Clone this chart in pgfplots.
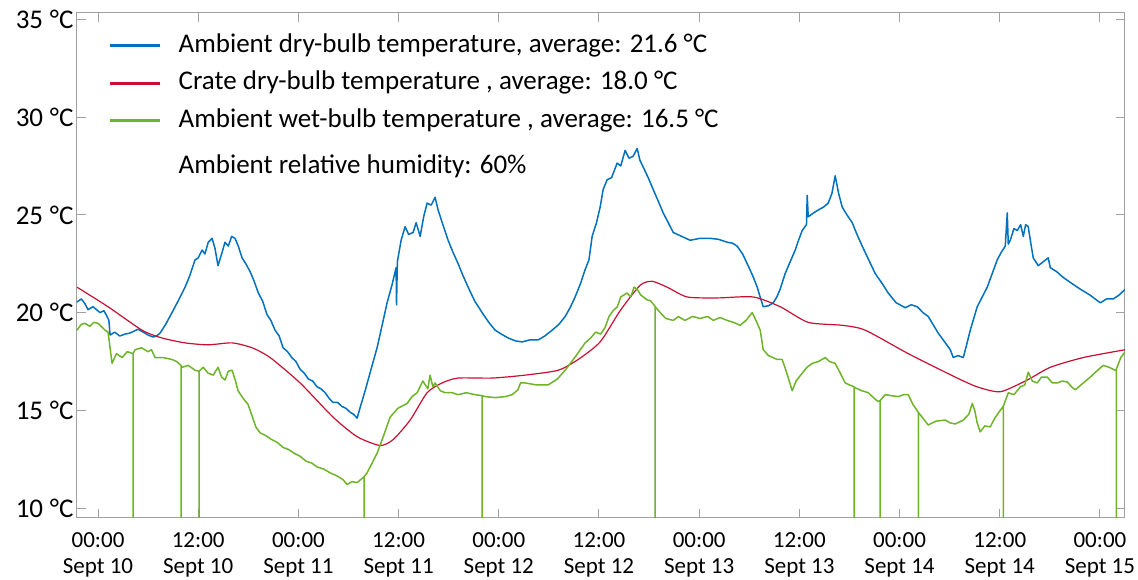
\documentclass[border=0pt]{standalone}
\usepackage{fontspec}
\setmainfont{Carlito}
\usepackage{pgfplots}
\pgfplotsset{compat=1.18}
\usepackage{pgfplotstable}
\definecolor{cblue}{RGB}{0,114,189}
\definecolor{cred}{RGB}{200,16,50}
\definecolor{cgreen}{RGB}{110,180,40}
\definecolor{axgray}{RGB}{160,160,160}

\pgfplotstableread{
h T
-2.52 20.54
-2.0 20.7
-1.56 20.45
-1.2 20.15
-0.6 20.3
0.24 20.0
0.7 20.1
1.08 19.8
1.3 19.6
1.44 18.85
2.0 19.0
2.6 18.8
3.23 18.9
3.8 18.95
4.3 19.05
4.79 19.15
5.4 19.0
6.0 18.85
6.59 18.75
7.0 18.8
7.43 18.95
8.1 19.4
8.86 20.0
9.6 20.6
10.42 21.3
11.0 21.9
11.62 22.7
12.0 22.8
12.46 23.2
12.8 23.0
13.2 23.6
13.66 23.8
14.0 23.3
14.37 22.4
14.8 23.0
15.21 23.6
15.6 23.4
16.0 23.9
16.41 23.8
16.8 23.4
17.25 22.8
17.7 22.5
18.21 22.1
18.7 21.6
19.2 21.0
19.7 20.6
20.24 19.9
20.7 19.6
21.2 19.1
21.7 18.8
22.16 18.2
22.7 18.0
23.2 17.7
23.7 17.5
24.20 17.1
24.7 16.9
25.2 16.6
25.7 16.5
26.24 16.2
26.7 16.1
27.2 15.9
27.7 15.6
28.15 15.4
28.7 15.4
29.2 15.2
29.7 15.1
30.19 14.9
30.6 14.8
31.03 14.6
31.5 15.3
31.99 16.0
32.7 17.1
33.42 18.2
34.0 19.3
34.62 20.5
35.2 21.4
35.7 22.3
35.75 20.4
35.85 22.6
36.3 23.7
36.78 24.4
37.2 24.0
37.74 24.1
38.1 24.6
38.58 23.9
39.0 24.9
39.41 25.6
39.9 25.5
40.37 25.9
40.73 25.25
41.3 24.5
41.93 23.7
42.5 23.1
43.13 22.5
43.7 21.9
44.33 21.3
45.1 20.6
46.00 20.0
46.8 19.5
47.56 19.1
48.3 18.9
49.12 18.7
50.0 18.55
50.80 18.5
51.7 18.6
52.71 18.6
53.5 18.8
54.39 19.1
55.2 19.4
55.95 19.8
56.6 20.3
57.14 20.8
57.8 21.5
58.34 22.2
58.8 22.7
59.18 23.9
59.7 24.6
60.14 25.4
60.5 26.3
60.98 26.8
61.5 26.9
62.18 27.65
62.6 27.5
63.13 28.3
63.6 27.9
64.09 28.0
64.57 28.4
64.9 27.8
65.29 27.45
65.9 26.9
66.49 26.3
67.1 25.7
67.69 25.1
68.3 24.6
68.89 24.1
69.9 23.9
70.92 23.7
72.1 23.8
73.32 23.8
74.3 23.75
75.35 23.6
76.0 23.55
76.55 23.4
77.2 23.0
77.75 22.5
78.4 21.9
78.95 21.3
79.3 20.8
79.67 20.3
80.3 20.35
80.87 20.5
81.3 20.8
81.70 21.2
82.30 22.0
82.9 22.6
83.50 23.2
83.9 23.7
84.34 24.2
84.85 24.5
84.94 26.0
85.06 24.9
85.7 25.1
86.26 25.25
86.9 25.4
87.45 25.6
87.9 26.1
88.29 27.0
88.7 26.1
89.13 25.4
89.7 25.0
90.33 24.6
90.9 24.0
91.53 23.4
92.3 22.7
93.08 22.0
93.9 21.5
94.64 21.0
95.6 20.5
96.68 20.25
97.4 20.4
98.12 20.3
98.8 20.0
99.43 19.8
100.0 19.4
100.63 18.95
101.4 18.5
102.07 18.1
102.43 17.7
103.0 17.8
103.63 17.7
104.0 18.3
104.47 19.1
105.30 20.3
105.9 20.8
106.50 21.3
107.1 22.0
107.70 22.7
108.2 23.1
108.66 23.4
108.90 25.1
109.02 23.5
109.26 23.7
109.7 24.3
110.10 24.2
110.5 24.5
110.82 23.9
111.1 24.5
111.41 24.4
111.7 23.6
112.01 22.8
112.61 22.4
113.2 22.6
113.81 22.8
114.05 22.3
114.8 22.1
115.60 21.8
116.6 21.5
117.64 21.2
118.8 20.9
120.04 20.5
120.8 20.7
121.60 20.7
122.3 20.9
123.03 21.2
}\dry

\pgfplotstableread{
h T
-2.52 21.3
1.20 20.3
5.27 19.1
7.67 18.7
10.42 18.45
13.18 18.35
16.05 18.45
18.45 18.2
20.61 17.7
24.20 16.4
28.15 14.65
31.03 13.65
33.78 13.2
35.34 13.5
37.38 14.5
39.41 15.9
41.21 16.4
43.13 16.65
47.20 16.65
51.15 16.8
55.11 17.05
57.50 17.6
60.14 18.5
62.54 20.1
64.93 21.4
66.37 21.6
68.17 21.3
70.56 20.8
74.16 20.75
78.47 20.8
81.70 20.3
85.06 19.5
89.13 19.35
91.89 19.1
97.04 17.9
102.67 16.7
105.30 16.2
108.06 15.95
111.29 16.55
114.05 17.2
118.00 17.7
123.03 18.1
}\crate

\pgfplotstableread{
h T
-2.52 19.1
-2.0 19.4
-1.56 19.45
-1.0 19.3
-0.5 19.5
0.0 19.45
0.84 19.1
1.20 19.0
1.68 17.4
2.2 17.9
2.88 17.7
3.5 18.0
4.19 17.9
4.19 0
4.19 17.9
4.43 18.1
5.2 18.2
5.99 18.0
6.4 18.1
6.83 17.7
7.8 17.7
8.86 17.6
9.4 17.5
9.94 17.3
9.94 0
9.94 17.3
10.06 17.2
10.8 17.3
11.62 17.05
12.10 17.0
12.10 0
12.10 17.0
12.6 17.2
13.18 16.9
13.8 16.8
14.37 17.2
14.8 16.7
15.21 16.55
15.6 17.0
16.05 17.05
16.4 16.6
16.77 16.0
17.4 15.6
17.97 15.3
18.9 14.15
19.41 13.85
20.1 13.7
20.8 13.5
21.5 13.35
22.16 13.1
22.8 13.0
23.5 12.8
24.2 12.65
24.9 12.4
25.6 12.3
26.24 12.1
27.0 12.0
27.8 11.8
28.6 11.65
29.35 11.45
29.83 11.2
30.4 11.35
31.03 11.3
31.86 11.6
31.86 0
31.86 11.6
32.22 11.8
33.42 12.8
34.2 13.7
34.98 14.65
35.9 15.1
37.02 15.35
37.6 15.7
38.22 15.9
38.9 16.5
39.5 16.1
39.77 16.8
40.1 16.2
40.37 16.4
41.0 16.0
41.57 15.9
42.4 15.9
43.13 15.8
44.1 15.9
45.16 15.8
46.00 15.75
46.00 0
46.00 15.75
46.36 15.7
47.6 15.65
48.76 15.7
49.6 15.8
50.3 16.05
50.6 16.4
51.15 16.4
52.5 16.3
53.91 16.3
55.0 16.6
55.95 17.05
57.1 17.7
58.34 18.45
59.0 18.7
59.6 19.0
60.2 18.9
60.74 19.25
61.2 19.8
61.70 20.1
62.2 20.3
62.6 20.8
63.37 21.0
63.8 20.8
64.2 21.3
64.57 21.2
65.0 20.9
65.77 20.65
66.2 20.6
66.73 20.3
66.73 0
66.73 20.3
67.33 20.0
68.0 19.7
68.89 19.6
69.5 19.8
70.3 19.6
71.2 19.8
72.12 19.7
73.0 19.8
73.7 19.6
74.5 19.75
75.35 19.6
76.1 19.5
76.91 19.35
77.6 19.6
78.35 20.0
78.8 19.6
79.31 19.1
79.67 18.1
80.3 17.8
81.34 17.6
81.94 17.6
82.5 16.9
83.14 16.0
83.6 16.5
84.34 16.9
84.9 17.2
85.54 17.4
86.3 17.5
87.09 17.7
87.6 17.5
88.29 17.4
88.9 16.9
89.49 16.4
90.0 16.3
90.57 16.2
90.57 0
90.57 16.2
90.69 16.15
91.5 16.0
92.25 15.9
93.0 15.6
93.44 15.45
93.68 15.5
93.68 0
93.68 15.5
94.28 15.8
95.0 15.75
95.84 15.7
96.5 15.8
97.04 15.8
97.6 15.3
98.24 14.9
98.24 0
98.24 14.9
99.43 14.25
100.4 14.45
101.47 14.5
102.1 14.35
102.67 14.3
103.63 14.5
104.3 14.8
104.71 15.35
105.0 15.0
105.30 14.35
105.66 13.9
106.2 14.2
106.86 14.15
107.4 14.6
108.06 15.0
108.42 15.2
108.42 0
108.42 15.2
109.02 15.9
109.7 15.8
110.46 16.2
111.0 16.3
111.41 16.95
111.9 16.5
112.49 16.4
113.0 16.7
113.69 16.7
114.3 16.4
114.89 16.4
115.5 16.5
116.09 16.45
116.6 16.2
117.05 16.05
118.0 16.4
118.84 16.7
119.6 17.0
120.40 17.3
121.1 17.2
121.84 17.05
121.96 17.1
121.96 0
121.96 17.1
122.5 17.7
123.03 18.0
}\wet

\begin{document}
\begin{tikzpicture}
\begin{axis}[
  name=ax,
  scale only axis,
  width=1048pt, height=505pt,
  xmin=-2.52, xmax=123.0,
  ymin=9.49, ymax=35.33,
  xtick={0,12,...,120},
  xticklabels={{00:00\\Sept 10},{12:00\\Sept 10},{00:00\\Sept 11},{12:00\\Sept 11},{00:00\\Sept 12},{12:00\\Sept 12},{00:00\\Sept 13},{12:00\\Sept 13},{00:00\\Sept 14},{12:00\\Sept 14},{00:00\\Sept 15}},
  ytick={10,15,...,35},
  yticklabels={10\hspace{0.25em}°C,15\hspace{0.25em}°C,20\hspace{0.25em}°C,25\hspace{0.25em}°C,30\hspace{0.25em}°C,35\hspace{0.25em}°C},
  tick align=inside,
  major tick length=9pt,
  axis line style={axgray, line width=1pt},
  tick style={axgray, line width=1pt},
  xticklabel style={align=center, font=\fontsize{23}{26}\selectfont, text=black, yshift=-11pt},
  yticklabel style={font=\fontsize{27}{30}\selectfont, text=black},
  legend style={draw=none, fill=none, at={(0.0296,0.960)}, anchor=north west,
    inner sep=0pt, row sep=12.4pt,
    nodes={inner sep=0pt, text height=19pt, text depth=6pt},
    font=\fontsize{27}{31}\selectfont},
  legend cell align=left,
  legend image code/.code={\draw[#1, line width=3pt] (0pt,0pt) -- (50pt,0pt); \path[draw=none, fill=none] (0pt,0pt) -- (69pt,0pt);},
  clip=true,
]
\addplot[cblue, line width=1.5pt, line join=round] table[x=h, y=T] {\dry};
\addlegendentry{Ambient dry-bulb temperature, average: 21.6 °C}
\addplot[cred, line width=1.2pt, smooth, tension=0.4] table[x=h, y=T] {\crate};
\addlegendentry{Crate dry-bulb temperature , average: 18.0 °C}
\addplot[cgreen, line width=1.5pt, line join=round] table[x=h, y=T] {\wet};
\addlegendentry{Ambient wet-bulb temperature , average: 16.5 °C}
\addlegendimage{empty legend}
\addlegendentry{\raisebox{-8.5pt}{Ambient relative humidity: 60\%}}
\end{axis}
\pgfresetboundingbox
\path ([shift={(-77pt,-62pt)}]ax.south west) rectangle ([shift={(1061pt,518pt)}]ax.south west);
\end{tikzpicture}
\end{document}
